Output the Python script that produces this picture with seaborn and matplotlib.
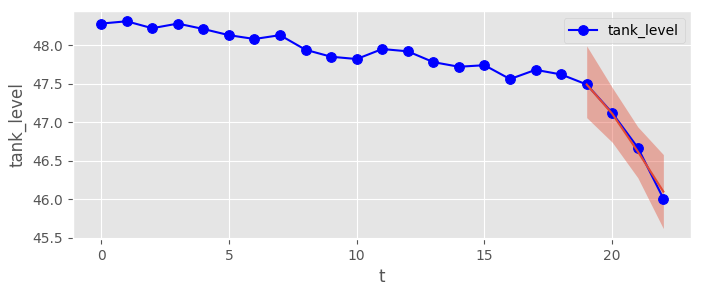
import numpy as np
import pandas as pd
import matplotlib
matplotlib.use("Agg")
import matplotlib.pyplot as plt
import seaborn as sns

t = list(range(23))
tank_level = [48.28, 48.31, 48.22, 48.28, 48.21, 48.13, 48.08, 48.13, 47.94, 47.85,
              47.82, 47.95, 47.92, 47.78, 47.72, 47.74, 47.56, 47.68, 47.62, 47.49,
              47.12, 46.67, 46.01]
fc_t = [19, 20, 21, 22]
fc_mean = [47.49, 47.11, 46.62, 46.10]
fc_lower = [47.06, 46.74, 46.28, 45.62]
fc_upper = [47.99, 47.45, 46.94, 46.58]

plt.style.use("ggplot")
fig, ax = plt.subplots(figsize=(7.02, 2.95), dpi=100)

df = pd.DataFrame({"t": t, "tank_level": tank_level})
ax.fill_between(fc_t, fc_lower, fc_upper, color="#E24A33", alpha=0.4, linewidth=0, zorder=1)
sns.lineplot(data=df, x="t", y="tank_level", ax=ax, color="blue", marker="o",
             markersize=7, markeredgecolor="blue", linewidth=1.5, label="tank_level", zorder=2)
fcdf = pd.DataFrame({"t": fc_t, "mean": fc_mean})
sns.lineplot(data=fcdf, x="t", y="mean", ax=ax, color="#E24A33", linewidth=1.5, zorder=3, legend=False)

ax.set_xlabel("t")
ax.set_ylabel("tank_level")
ax.margins(x=0.05, y=0.05)
ax.legend(loc="upper right")
fig.subplots_adjust(left=0.104, right=0.985, top=0.963, bottom=0.19)
fig.savefig("out.png", dpi=100)
